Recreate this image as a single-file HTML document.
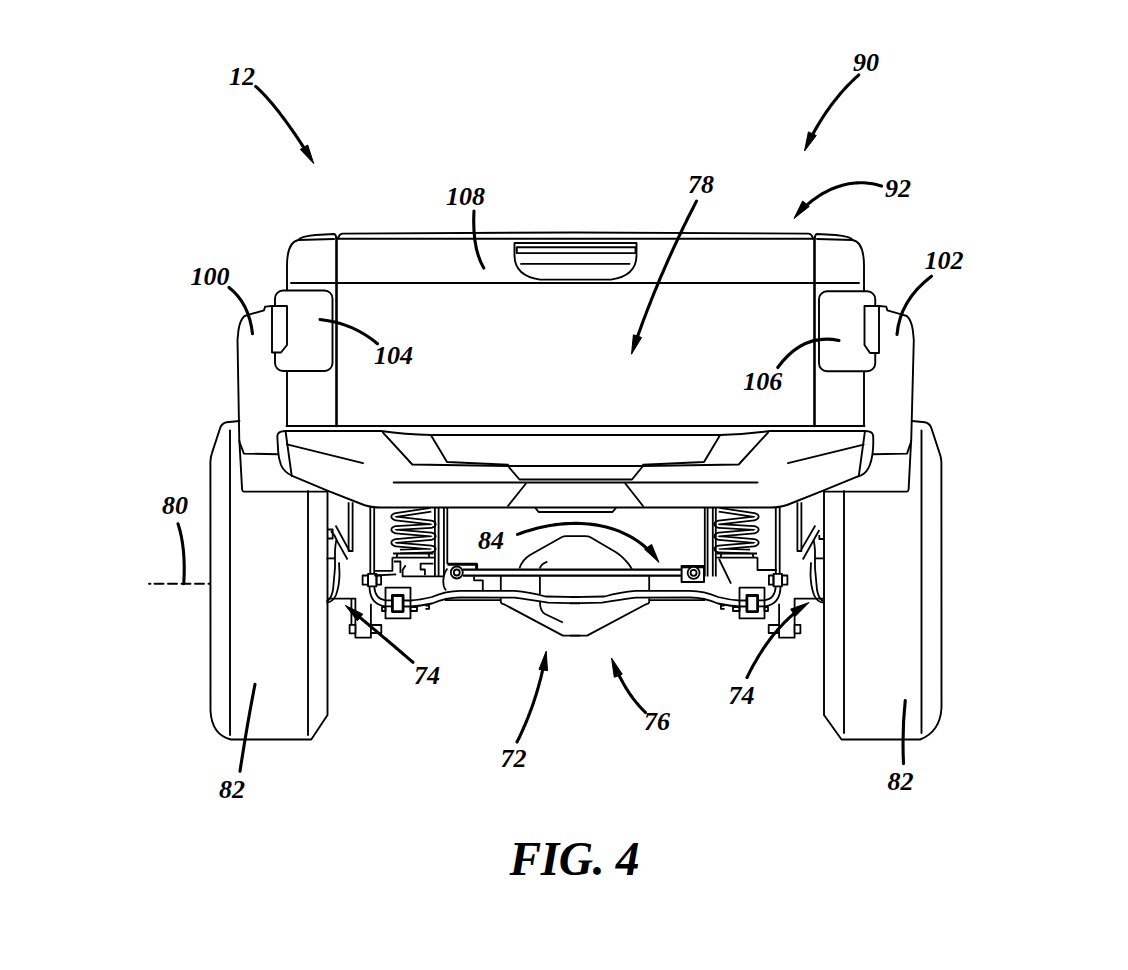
<!DOCTYPE html>
<html><head><meta charset="utf-8"><style>
html,body{margin:0;padding:0;background:#fff;}
body{width:1128px;height:970px;overflow:hidden;}
svg{display:block;}
text{font-family:"Liberation Serif",serif;font-weight:bold;font-style:italic;fill:#000;}
</style></head><body>
<svg width="1128" height="970" viewBox="0 0 1128 970">
<g fill="none" stroke="#000" stroke-width="1.9" stroke-linejoin="round" stroke-linecap="round">
<!-- ===== BED / TAILGATE ===== -->
<!-- left bed side -->
<path d="M287,426 L287,290 M287,371 L287,266 Q287,242 298.4,240 L334,239"/>
<path d="M298.4,240 Q300,236.5 315.5,235 L334,234 Q336,234.5 336.4,238.5"/>
<path d="M291,283 L335,283"/>
<!-- right bed side -->
<path d="M864,426 L864,371 M864,291 L864,266 Q864,242 852.6,240 L817,239"/>
<path d="M852.6,240 Q851,236.5 835.5,235 L817,234 Q815,234.5 814.6,238.5"/>
<path d="M816,283 L859,283"/>
<!-- tailgate -->
<path d="M336.5,238 L336.5,426" stroke-width="2.6"/>
<path d="M814.5,238 L814.5,426" stroke-width="2.6"/>
<path d="M338.2,238.5 Q339,234 342.4,233.6 L575,232.5 L808.6,233.6 Q812,234 812.8,238.5"/>
<path d="M338,238.8 L813,238.8"/>
<path d="M338,283 L813,283"/>
<path d="M286.5,426 L864.5,426"/>
<!-- handle -->
<path d="M514.5,243 L636.5,243 L636.5,256 Q636,276 611,279.6 L540,279.6 Q515,276 514.5,256 Z"/>
<path d="M516.8,247.3 L635.5,247.3 L635.5,253.1 L516.8,253.1 Z"/>
<path d="M521,263.9 L629.5,263.9"/>
<!-- taillights -->
<rect x="275" y="290.5" width="57.5" height="80.5" rx="8" fill="#fff"/>
<rect x="819" y="291.25" width="56.25" height="80" rx="8" fill="#fff"/>
<path d="M272,306 L287,306 L287,345 L281,352.5 L272,352.5 Z" fill="#fff"/>
<path d="M879,306 L864.5,306 L864.5,345 L870,353 L879,353 Z" fill="#fff"/>
<!-- side panels -->
<path d="M272,306 L265.1,306.6 L264,310.3 L249.1,314.6 L244.5,316 Q240,320 238.5,330 L237.5,340 L239.3,441.5 L243.9,453.6 L278.2,454.3"/>
<path d="M239.4,441 L242.1,489.6 Q242.5,491.6 244,491.6 L327,491.6"/>
<path d="M879,306 L886.2,306.6 L887.3,310.3 L902.2,314.6 L906.8,316 Q911.3,320 912.8,330 L913.8,340 L911.2,441.5 L907,453.6 L872.8,454.3"/>
<path d="M911.1,441 L908.6,489.6 Q908.2,491.6 906.5,491.6 L824,491.6"/>
<!-- ===== BUMPER ===== -->
<path d="M278.2,451.7 L277.3,436 Q277.5,431.2 285.7,431 L381,431 Q405,434.5 431,435 L720,435 Q746,434.5 770,431 L865,431 Q873,431.2 873.2,436 L873.3,443 Q873,455 870.6,462.6 Q868.5,470 864.4,473.2 Q861,476 857.3,476.7 L823.1,490.7 L787,505 Q780,507.5 770,507.5 L381,507.5 Q371,507.5 364,505 L327.4,490.7 L292.2,475.9 Q284,472 281,465 Q278.5,458 278.2,451.7 Z" fill="#fff"/>
<path d="M285.7,432.3 L291.7,475.9"/>
<path d="M864.8,432.3 L858.8,475.9"/>
<path d="M287,444.3 L363,463.2"/>
<path d="M863.7,444.6 L788,463.2"/>
<path d="M383,432.6 L412.3,464.5 L508,466 L643,466 L738.7,464.5 L768,432.6"/>
<path d="M431,435.3 L447,462 L508,464.8 M643,464.8 L704,462 L720,435.3"/>
<path d="M508,466 L519.5,479.5 L632,479.5 L643,466"/>
<path d="M393.7,482.5 L757.5,482.5"/>
<path d="M508,506 L525.75,483.75 M625.5,483.75 L643,506"/>
<path d="M535.75,508.5 L538.6,512 L612.5,512 L615.5,508.5"/>
<!-- ===== TIRES ===== -->
<path d="M239.5,421 L226.5,422.2 Q222.5,423 220.5,427 L212.1,452.6 Q210.5,457 210.4,462 L210.5,711 Q212,735 231,739.5 L311.25,739.5 L327.5,715 L327.5,491"/>
<path d="M230,430.4 L230,735"/>
<path d="M308,491 L308,735"/>
<path d="M912,421 L925,422.2 Q929,423 931,427 L939.4,452.6 Q941.2,457 941.4,462 L941.5,708 Q940,732 920,739.5 L841.5,739.5 L824,715 L824,491"/>
<path d="M921.5,430.4 L921.5,733"/>
<path d="M844,491 L844,733"/>
<!-- dashed line 80 -->
<path d="M149,583.75 L210,583.75" stroke-dasharray="1.5,4 9,4.5 9,4.5 9,4.5 9,4.5 9,4.5"/>
</g>
<!-- ===== SUSPENSION ===== -->
<defs>
<g id="side" fill="none" stroke="#000" stroke-width="1.8" stroke-linejoin="round">
 <!-- shock verticals -->
 <path d="M348.6,502.3 L348.6,551 L352.6,551 L352.6,502.3"/>
 <path d="M370.3,507 L370.3,574 M374.2,507 L374.2,575.5"/>
 <!-- drum -->
 <path d="M326.5,600.9 Q331,600 333,590 L335,568 L335,551 Q335.5,543 336.5,540"/>
 <path d="M326.5,602.6 Q333,602 336,595 Q339.5,585 339.5,573.7 L339,562.4"/>
 <path d="M326.5,558.4 L335,558.4"/>
 <!-- brake bracket -->
 <path d="M327,598.6 L355.4,598.6 L355.4,637.7 L370.9,637.7 L370.9,603.8"/>
 <path d="M349.6,624.8 L355.4,624.8 L355.4,633.3 L349.6,633.3 Z" fill="#fff"/>
 <path d="M370.9,625 L381.3,625 L381.3,633 L370.9,633 Z" fill="#fff"/>
 <!-- spring -->
 <path id="coil" d="M431,509.8 L396,515 Q390.5,516.5 396,518.5 L431,522.5 Q436.5,524 431,526 L396,528 Q390.5,529.5 396,531.5 L431,534.5 Q436.5,536 431,538 L396,541 Q390.5,542.5 396,544.5 L431,547.5 Q436.5,549 431,550.5 L400,551.5" stroke-width="5.6"/>
 <path d="M431,509.8 L396,515 Q390.5,516.5 396,518.5 L431,522.5 Q436.5,524 431,526 L396,528 Q390.5,529.5 396,531.5 L431,534.5 Q436.5,536 431,538 L396,541 Q390.5,542.5 396,544.5 L431,547.5 Q436.5,549 431,550.5 L400,551.5" stroke="#fff" stroke-width="2.1"/>
 <path d="M393,553.5 L433.4,553.5 M392.4,557.6 L434.9,557.6 M397.5,553.5 L396.5,557.6 M428.5,553.5 L429.5,557.6" stroke-width="1.8"/>
 <!-- joint -->
 <path d="M368,573.9 L376.5,573.9 L376.5,586.3 L368,586.3 Z" fill="#fff"/>
 <path d="M362.6,575.5 L368,575.5 L368,584.7 L362.6,584.7 Z M376.5,575.5 L381.1,575.5 L381.1,584.7 L376.5,584.7 Z"/>
 <!-- lower link tube -->
 <path d="M369.5,586.3 Q369.5,604 385,606.4"/>
 <path d="M374.2,586.3 Q375,599 385.5,600.4"/>
 <!-- clamp -->
 <path d="M385.5,587.6 L410.5,587.6 L410.5,618.4 L385.5,618.4 Z" fill="#fff"/>
 <path d="M382,607 L385.5,607 L385.5,611 L382,611 Z M410.5,607 L417,607 L417,611 L410.5,611 Z"/>
 <path d="M385.5,600.4 L410.5,600.5 M385.5,606.4 L410.5,606.5"/>
 <path d="M392.4,595.5 L403.1,595.5 L403.1,611.6 L392.4,611.6 Z" stroke-width="2.8" fill="#fff"/>
 <path d="M410.5,600.5 Q420,600 432,597 Q446,591 460,590.9 L514.5,590.9 Q529,592 545.5,596.5 L580,597.1"/>
 <path d="M410.5,606.5 Q420,606 432,603.5 Q446,597.5 460,597.5 L514.5,597.7 Q529,599.6 548,602.7 L580,603.3"/>
 <path d="M425.4,605.6 L429.1,605.6 L429.1,608.8 L425.4,608.8"/>
 <!-- verticals right of spring -->
 <!-- lower tube bottom thick segment -->
 <path d="M445,600.2 L500.8,600.2"/>
 <path d="M500.8,575.4 L500.8,590.3 M500.8,598.3 L500.8,602 Q501,604 504.5,604.5 L562.9,635.6 L580,635.6"/>
</g>
</defs>
<use href="#side"/>
<use href="#side" transform="matrix(-1,0,0,1,1150,0)"/>
<g fill="none" stroke="#000" stroke-width="1.8" stroke-linejoin="round">
 <path d="M351.4,598.6 L351.4,624.8"/>
 <path d="M434.9,507.5 L434.9,576.4 M438.6,507.5 L438.6,576.4 M443.9,507.5 L443.9,576.4 M447.3,507.5 L447.3,564"/>
 <path d="M704.8,507.5 L704.8,576.5 M707.6,507.5 L707.6,576.5 M712.8,507.5 L712.8,576.5 M715.8,507.5 L715.8,576.5"/>
 <path d="M327,529.5 L332.7,529.5 L332.7,538.5 L327,538.5"/>
 <path d="M335.6,525.5 L349.2,550.5 M347.5,559.5 L337.3,541.4 Q335,535 331,531"/>
 <path d="M815.3,525.5 L801.1,549.9 M802.8,559.5 L819.3,530 M819.3,535 L819.3,539 L823.8,539"/>
 <!-- left stepped bracket -->
 <path d="M374.2,570.8 L392.4,570.8 L392.4,557.6 M374.2,575.5 L396.2,574.3"/>
 <path d="M394,561.5 L400.4,561.5 L400.4,573"/>
 <path d="M405.7,565.2 L402.6,570 L402.6,576.4 L443,576.4"/>
 <path d="M433.4,563.6 L420.6,563.6 L420.6,569.5 L424.9,569.5 L424.9,575.3"/>
 <!-- left track bar mount -->
 <path d="M447.4,564.2 L476.6,564.2 L476.6,569.2" stroke-width="3"/>
 <path d="M447.4,568.5 Q442,575 443.7,585.9 Q444.5,589 446.2,590.3"/>
 <path d="M474.1,576.6 L474.1,580.3 L482.8,580.3 L482.8,590.3"/>
 <circle cx="456.8" cy="572.5" r="6" fill="#fff"/>
 <circle cx="456.8" cy="572.5" r="3"/>
 <!-- track bar -->
 <path d="M463,569.6 L681.6,569.6 M463,575.6 L681.6,575.6" stroke-width="2.2"/>
 <!-- right track bar mount -->
 <path d="M681.6,566 L704,566 L704,582 L681.6,582 Z" fill="#fff" stroke-width="2"/>
 <path d="M682,566.8 L704,566.8" stroke-width="3"/>
 <circle cx="693.6" cy="572.8" r="6" fill="#fff"/>
 <circle cx="693.6" cy="572.8" r="3"/>
 <!-- right step + diagonal -->
 <path d="M757.5,557.6 L757.5,570 L776.7,570"/>
 <path d="M719,559 L731,583.7"/>
 <!-- differential -->
 <path d="M519.4,568.5 Q522,560 530,555 L562,537 Q563.7,536.2 566,536.2 L585,536.2 Q588.5,536.2 590,537 L616,552.3 Q626,559 632,569.1"/>
 <path d="M547.4,561.7 Q541,564 539.9,568.5 M539.9,576.5 L539.9,594 M539.9,602 Q540,611 545,614 L562.9,622.5"/>
</g>
<!-- ===== LEADERS / ARROWS ===== -->
<g fill="none" stroke="#000" stroke-width="3.1" stroke-linecap="round">
<path d="M255.7,86.5 L256.8,87.4 L257.9,88.4 L259.1,89.5 L260.2,90.6 L261.4,91.8 L262.6,93.0 L263.8,94.3 L265.1,95.6 L266.4,97.0 L267.6,98.4 L268.9,99.9 L270.2,101.4 L271.6,103.0 L272.9,104.6 L274.2,106.2 L275.6,107.9 L276.9,109.6 L278.3,111.3 L279.7,113.1 L281.0,114.9 L282.4,116.7 L283.8,118.5 L285.2,120.4 L286.6,122.3 L287.9,124.2 L289.3,126.1 L290.7,128.1 L292.1,130.0 L293.4,132.0 L294.8,133.9 L296.1,135.9 L297.5,137.9 L298.8,139.9 L300.1,141.8 L301.4,143.8 L302.7,145.8 L304.0,147.8 L305.2,149.7 L306.4,151.7 L307.7,153.6"/>
<path d="M858.8,74.9 L857.3,76.3 L855.7,77.7 L854.2,79.1 L852.7,80.5 L851.3,82.0 L849.8,83.5 L848.4,84.9 L846.9,86.4 L845.5,87.9 L844.1,89.5 L842.7,91.0 L841.4,92.5 L840.0,94.1 L838.7,95.7 L837.4,97.3 L836.1,98.9 L834.8,100.5 L833.5,102.1 L832.3,103.8 L831.0,105.4 L829.8,107.1 L828.6,108.8 L827.4,110.5 L826.2,112.2 L825.1,113.9 L823.9,115.6 L822.8,117.3 L821.7,119.1 L820.6,120.8 L819.5,122.6 L818.4,124.4 L817.4,126.1 L816.3,127.9 L815.3,129.7 L814.3,131.5 L813.3,133.3 L812.3,135.2 L811.3,137.0 L810.4,138.8 L809.4,140.7"/>
<path d="M881.6,186.1 L879.4,185.4 L877.1,184.8 L874.9,184.3 L872.7,183.8 L870.5,183.5 L868.3,183.2 L866.1,183.0 L863.9,182.8 L861.7,182.8 L859.5,182.8 L857.3,182.9 L855.2,183.0 L853.0,183.2 L850.9,183.5 L848.8,183.8 L846.6,184.3 L844.5,184.7 L842.4,185.3 L840.4,185.9 L838.3,186.5 L836.3,187.2 L834.3,188.0 L832.2,188.8 L830.3,189.7 L828.3,190.6 L826.4,191.6 L824.4,192.6 L822.5,193.7 L820.6,194.8 L818.8,196.0 L817.0,197.2 L815.2,198.5 L813.4,199.8 L811.6,201.1 L809.9,202.5 L808.2,203.9 L806.5,205.3 L804.9,206.8 L803.3,208.3 L801.7,209.9"/>
<path d="M696.5,201.1 L694.7,204.6 L692.9,208.2 L691.1,211.7 L689.3,215.3 L687.5,218.8 L685.8,222.4 L684.0,225.9 L682.3,229.5 L680.6,233.1 L678.9,236.6 L677.3,240.2 L675.6,243.7 L673.9,247.3 L672.3,250.8 L670.7,254.4 L669.1,257.9 L667.5,261.5 L666.0,265.0 L664.4,268.6 L662.9,272.1 L661.3,275.7 L659.8,279.2 L658.3,282.8 L656.9,286.3 L655.4,289.9 L653.9,293.4 L652.5,297.0 L651.1,300.5 L649.7,304.1 L648.3,307.6 L646.9,311.2 L645.6,314.7 L644.2,318.3 L642.9,321.8 L641.6,325.4 L640.3,329.0 L639.0,332.5 L637.7,336.1 L636.5,339.6 L635.2,343.2"/>
<path d="M474,211 Q472,248 483.75,268"/>
<path d="M229,287.5 Q249,303 252.5,333.75"/>
<path d="M931.5,276.25 Q900,300 897,334.5"/>
<path d="M320,319.5 Q353,323 377.5,343.75"/>
<path d="M777.75,367.5 Q803,333 839,340.5"/>
<path d="M178,523.75 Q186,548 183.75,583.75"/>
<path d="M517.5,534.4 L520.8,533.2 L524.1,532.0 L527.5,530.9 L530.9,529.9 L534.4,528.9 L537.9,528.0 L541.4,527.2 L545.0,526.4 L548.6,525.7 L552.1,525.2 L555.8,524.6 L559.4,524.2 L563.0,523.9 L566.7,523.6 L570.3,523.5 L574.0,523.4 L577.6,523.4 L581.2,523.5 L584.8,523.7 L588.4,524.0 L592.0,524.4 L595.6,524.9 L599.1,525.5 L602.6,526.2 L606.1,527.0 L609.5,528.0 L612.9,529.0 L616.3,530.1 L619.6,531.4 L622.8,532.8 L626.0,534.3 L629.1,535.9 L632.2,537.6 L635.2,539.5 L638.2,541.5 L641.0,543.6 L643.8,545.8 L646.5,548.2 L649.2,550.7 L651.7,553.3"/>
<path d="M240,771.25 Q247,725 255,684.25"/>
<path d="M903.5,763.75 Q902,730 905.25,700.5"/>
<path d="M517.0,742.0 L517.9,740.1 L518.9,738.2 L519.8,736.3 L520.7,734.4 L521.6,732.5 L522.4,730.6 L523.3,728.6 L524.1,726.7 L525.0,724.8 L525.8,722.9 L526.6,720.9 L527.4,719.0 L528.2,717.0 L528.9,715.1 L529.7,713.1 L530.4,711.1 L531.2,709.2 L531.9,707.2 L532.6,705.2 L533.3,703.2 L533.9,701.3 L534.6,699.3 L535.2,697.3 L535.9,695.3 L536.5,693.3 L537.1,691.3 L537.7,689.2 L538.3,687.2 L538.8,685.2 L539.4,683.2 L539.9,681.1 L540.5,679.1 L541.0,677.1 L541.5,675.0 L542.0,673.0 L542.4,670.9 L542.9,668.8 L543.3,666.8 L543.8,664.7 L544.2,662.6"/>
<path d="M645.5,712.5 L644.6,711.7 L643.8,710.8 L642.9,710.0 L642.1,709.1 L641.3,708.2 L640.4,707.3 L639.6,706.4 L638.8,705.5 L638.0,704.5 L637.2,703.6 L636.4,702.6 L635.6,701.6 L634.8,700.6 L634.0,699.6 L633.2,698.6 L632.5,697.6 L631.7,696.5 L630.9,695.5 L630.2,694.4 L629.4,693.3 L628.7,692.2 L628.0,691.1 L627.3,689.9 L626.5,688.8 L625.8,687.6 L625.1,686.4 L624.4,685.3 L623.7,684.0 L623.0,682.8 L622.4,681.6 L621.7,680.4 L621.0,679.1 L620.3,677.8 L619.7,676.5 L619.0,675.2 L618.4,673.9 L617.8,672.6 L617.1,671.3 L616.5,669.9 L615.9,668.5"/>
<path d="M747.0,677.5 L748.1,675.3 L749.2,673.1 L750.3,670.9 L751.4,668.8 L752.6,666.6 L753.7,664.5 L754.9,662.5 L756.1,660.4 L757.2,658.4 L758.4,656.4 L759.6,654.5 L760.9,652.5 L762.1,650.6 L763.3,648.7 L764.6,646.9 L765.9,645.0 L767.1,643.2 L768.4,641.5 L769.7,639.7 L771.0,638.0 L772.3,636.3 L773.7,634.6 L775.0,633.0 L776.4,631.4 L777.7,629.8 L779.1,628.2 L780.5,626.7 L781.9,625.2 L783.3,623.7 L784.7,622.2 L786.2,620.8 L787.6,619.4 L789.1,618.0 L790.5,616.6 L792.0,615.3 L793.5,614.0 L795.0,612.7 L796.5,611.5 L798.0,610.3 L799.6,609.1"/>
<path d="M413.0,662.3 L411.6,661.1 L410.1,659.8 L408.7,658.6 L407.2,657.4 L405.8,656.1 L404.3,654.9 L402.9,653.7 L401.4,652.4 L400.0,651.2 L398.5,649.9 L397.1,648.7 L395.6,647.5 L394.2,646.2 L392.7,645.0 L391.2,643.8 L389.8,642.5 L388.3,641.3 L386.9,640.0 L385.4,638.8 L383.9,637.6 L382.4,636.3 L381.0,635.1 L379.5,633.8 L378.0,632.6 L376.6,631.4 L375.1,630.1 L373.6,628.9 L372.1,627.6 L370.6,626.4 L369.2,625.2 L367.7,623.9 L366.2,622.7 L364.7,621.4 L363.2,620.2 L361.7,618.9 L360.2,617.7 L358.7,616.5 L357.2,615.2 L355.7,614.0 L354.2,612.7"/>
</g>
<g fill="#000" stroke="#000" stroke-width="1" stroke-linejoin="round">
<path d="M313.7,163.5 L300.3,149.4 L307.7,145.0 Z"/>
<path d="M804.5,151.0 L808.4,131.9 L816.3,135.5 Z"/>
<path d="M794.0,218.5 L802.6,201.0 L809.3,206.4 Z"/>
<path d="M631.5,354.2 L633.4,334.8 L641.6,337.5 Z"/>
<path d="M659.0,562.4 L644.6,549.3 L651.6,544.4 Z"/>
<path d="M546.2,651.2 L547.5,670.7 L539.0,669.3 Z"/>
<path d="M611.5,658.0 L622.3,674.2 L614.3,677.3 Z"/>
<path d="M809.0,602.5 L795.3,616.3 L790.7,609.1 Z"/>
<path d="M345.4,605.4 L362.8,614.2 L357.3,620.8 Z"/>
</g>
<!-- ===== LABELS ===== -->
<g font-size="26">
<text x="229" y="85">12</text>
<text x="853" y="70.5">90</text>
<text x="885" y="197">92</text>
<text x="688" y="193.25">78</text>
<text x="446" y="204.5">108</text>
<text x="190.5" y="285">100</text>
<text x="924.5" y="268.75">102</text>
<text x="374" y="364">104</text>
<text x="743.25" y="390">106</text>
<text x="162" y="513.75">80</text>
<text x="478" y="548.75">84</text>
<text x="414" y="683.75">74</text>
<text x="728.5" y="703.75">74</text>
<text x="500.5" y="767">72</text>
<text x="644" y="730">76</text>
<text x="219" y="797.5">82</text>
<text x="887.5" y="789.5">82</text>
</g>
<text x="509.5" y="875" font-size="47.5" letter-spacing="-0.4">FIG. 4</text>
</svg>
</body></html>
